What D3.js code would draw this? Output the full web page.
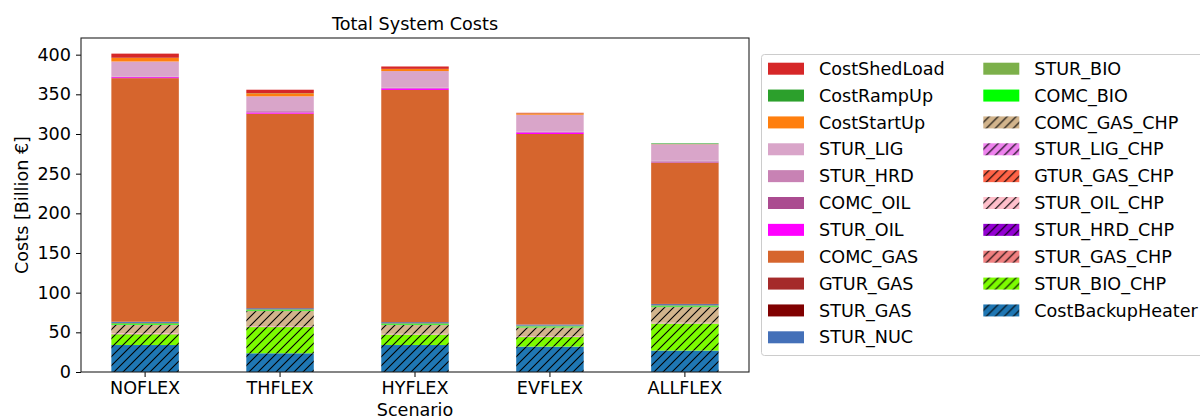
<!DOCTYPE html>
<html>
<head>
<meta charset="utf-8">
<script src="https://cdn.jsdelivr.net/npm/d3@7"></script>
<style>
  body { margin: 0; background: #fff; }
  text { font-family: "DejaVu Sans", sans-serif; fill: #000; }
</style>
</head>
<body>
<div id="chart"></div>
<script>
// scenarios on the x axis
var scenarios = ["NOFLEX", "THFLEX", "HYFLEX", "EVFLEX", "ALLFLEX"];

// cost components in Billion €, stacked bottom -> top
var CostBackupHeater = [34, 23.6, 34, 32, 27];
var STUR_BIO_CHP     = [13.5, 33, 13, 12, 34];
var STUR_GAS_CHP     = [0.3, 0.3, 0.3, 0.3, 0.3];
var STUR_HRD_CHP     = [0.1, 0.1, 0.1, 0.1, 0.1];
var STUR_OIL_CHP     = [0.8, 0.4, 0.4, 0.4, 0.4];
var GTUR_GAS_CHP     = [0.2, 0.2, 0.2, 0.2, 0.2];
var STUR_LIG_CHP     = [0.2, 0.2, 0.2, 0.2, 0.2];
var COMC_GAS_CHP     = [10.5, 19, 11, 11, 19.6];
var COMC_BIO         = [1.0, 1.0, 1.0, 1.0, 1.0];
var STUR_BIO         = [1.3, 1.3, 1.3, 1.3, 1.3];
var STUR_NUC         = [1.2, 1.2, 1.2, 1.2, 1.4];
var STUR_GAS         = [0.1, 0.1, 0.1, 0.1, 0.1];
var GTUR_GAS         = [0.2, 0.2, 0.2, 0.2, 0.2];
var COMC_GAS         = [307, 245, 292.5, 240, 178];
var STUR_OIL         = [1.2, 1.5, 2.0, 2.0, 0.3];
var COMC_OIL         = [0.3, 0.3, 0.3, 0.3, 1.0];
var STUR_HRD         = [0.5, 1.5, 0.5, 0.5, 1.5];
var STUR_LIG         = [19, 18.6, 21, 21.5, 20.5];
var CostStartUp      = [4.5, 3.8, 2.6, 1.7, 0.2];
var CostRampUp       = [0.2, 0.2, 0.2, 0.1, 0.8];
var CostShedLoad     = [5.2, 4.3, 3, 0.6, 0];

var yTicks = [0, 50, 100, 150, 200, 250, 300, 350, 400];

var series = [
  {name: "CostBackupHeater", values: CostBackupHeater, color: "#1f77b4", hatch: true},
  {name: "STUR_BIO_CHP", values: STUR_BIO_CHP, color: "#7cfc00", hatch: true},
  {name: "STUR_GAS_CHP", values: STUR_GAS_CHP, color: "#f08080", hatch: true},
  {name: "STUR_HRD_CHP", values: STUR_HRD_CHP, color: "#9400d3", hatch: true},
  {name: "STUR_OIL_CHP", values: STUR_OIL_CHP, color: "#ffc0cb", hatch: true},
  {name: "GTUR_GAS_CHP", values: GTUR_GAS_CHP, color: "#ff6347", hatch: true},
  {name: "STUR_LIG_CHP", values: STUR_LIG_CHP, color: "#ee82ee", hatch: true},
  {name: "COMC_GAS_CHP", values: COMC_GAS_CHP, color: "#d2b48c", hatch: true},
  {name: "COMC_BIO", values: COMC_BIO, color: "#00ff00", hatch: false},
  {name: "STUR_BIO", values: STUR_BIO, color: "#7cb04a", hatch: false},
  {name: "STUR_NUC", values: STUR_NUC, color: "#4470b8", hatch: false},
  {name: "STUR_GAS", values: STUR_GAS, color: "#800000", hatch: false},
  {name: "GTUR_GAS", values: GTUR_GAS, color: "#a52a2a", hatch: false},
  {name: "COMC_GAS", values: COMC_GAS, color: "#d6652d", hatch: false},
  {name: "STUR_OIL", values: STUR_OIL, color: "#ff00ff", hatch: false},
  {name: "COMC_OIL", values: COMC_OIL, color: "#ab4b90", hatch: false},
  {name: "STUR_HRD", values: STUR_HRD, color: "#c882b4", hatch: false},
  {name: "STUR_LIG", values: STUR_LIG, color: "#d9a5c9", hatch: false},
  {name: "CostStartUp", values: CostStartUp, color: "#ff7f0e", hatch: false},
  {name: "CostRampUp", values: CostRampUp, color: "#2ca02c", hatch: false},
  {name: "CostShedLoad", values: CostShedLoad, color: "#d62728", hatch: false}
];

var w = 1200;
var h = 416;
var axLeft = 81, axRight = 749, axTop = 38, axBottom = 372;

var svg = d3.select("#chart")
			.append("svg")
			.attr("width", w)
			.attr("height", h);

// hatch patterns ("//")
var defs = svg.append("defs");
series.filter(s => s.hatch).forEach(function(s) {
	var p = defs.append("pattern")
				.attr("id", "hatch_" + s.name)
				.attr("patternUnits", "userSpaceOnUse")
				.attr("width", 9)
				.attr("height", 9);
	p.append("rect").attr("width", 9).attr("height", 9).attr("fill", s.color);
	p.append("path")
	 .attr("d", "M-1,1 l2,-2 M0,9 l9,-9 M8,10 l2,-2")
	 .attr("stroke", "#000")
	 .attr("stroke-width", 1.1);
});
function fillOf(s) { return s.hatch ? "url(#hatch_" + s.name + ")" : s.color; }

// rows for the stack
var rows = scenarios.map(function(sc, i) {
	var r = {scenario: sc};
	series.forEach(s => r[s.name] = s.values[i]);
	return r;
});
var stacked = d3.stack().keys(series.map(s => s.name))(rows);

var x = d3.scaleBand()
		  .domain(scenarios)
		  .range([axLeft, axRight])
		  .paddingInner(0.5)
		  .paddingOuter(0.225);
var y = d3.scaleLinear()
		  .domain([0, 421])
		  .range([axBottom, axTop]);

stacked.forEach(function(layer, k) {
	var s = series[k];
	svg.append("g")
	   .selectAll("rect")
	   .data(layer)
	   .enter()
	   .append("rect")
	   .attr("x", d => x(d.data.scenario))
	   .attr("width", x.bandwidth())
	   .attr("y", d => y(d[1]))
	   .attr("height", d => Math.max(0, y(d[0]) - y(d[1])))
	   .attr("fill", fillOf(s));
});

// axes
var xAxis = svg.append("g")
			   .attr("transform", "translate(0," + axBottom + ")")
			   .call(d3.axisBottom(x).tickSize(5).tickPadding(5));
var yAxis = svg.append("g")
			   .attr("transform", "translate(" + axLeft + ",0)")
			   .call(d3.axisLeft(y).tickValues(yTicks).tickSize(5).tickPadding(5));
[xAxis, yAxis].forEach(function(a) {
	a.select(".domain").remove();
	a.selectAll("line").attr("stroke", "#000").attr("stroke-width", 1);
	a.selectAll("text").style("font-size", "17.6px").style("font-family", "DejaVu Sans");
});

// frame
svg.append("rect")
   .attr("x", axLeft).attr("y", axTop)
   .attr("width", axRight - axLeft).attr("height", axBottom - axTop)
   .attr("fill", "none")
   .attr("stroke", "#222")
   .attr("stroke-width", 1.1);

// labels
svg.append("text")
   .attr("x", (axLeft + axRight) / 2).attr("y", 30)
   .attr("text-anchor", "middle")
   .style("font-size", "17.6px")
   .text("Total System Costs");
svg.append("text")
   .attr("x", (axLeft + axRight) / 2).attr("y", 416)
   .attr("text-anchor", "middle")
   .style("font-size", "17.6px")
   .text("Scenario");
svg.append("text")
   .attr("transform", "translate(28," + ((axTop + axBottom) / 2) + ") rotate(-90)")
   .attr("text-anchor", "middle")
   .style("font-size", "17.6px")
   .text("Costs [Billion €]");

// legend (reversed order, two columns)
var legendItems = series.slice().reverse();
var lg = svg.append("g");
lg.append("rect")
  .attr("x", 761.5).attr("y", 54.5)
  .attr("width", 460).attr("height", 301)
  .attr("rx", 3)
  .attr("fill", "#fff")
  .attr("stroke", "#ccc");
var entries = lg.selectAll("g.entry")
				.data(legendItems)
				.enter()
				.append("g")
				.attr("transform", function(d, i) {
					var col = i < 11 ? 0 : 1;
					var row = i < 11 ? i : i - 11;
					return "translate(" + (768 + col * 215.3) + "," + (68.7 + row * 26.86) + ")";
				});
entries.append("rect")
	   .attr("x", 0).attr("y", -6)
	   .attr("width", 36).attr("height", 12)
	   .attr("fill", d => fillOf(d));
entries.append("text")
	   .attr("x", 51).attr("y", 0)
	   .attr("dy", "0.35em")
	   .style("font-size", "17.6px")
	   .text(d => d.name);
</script>
</body>
</html>
